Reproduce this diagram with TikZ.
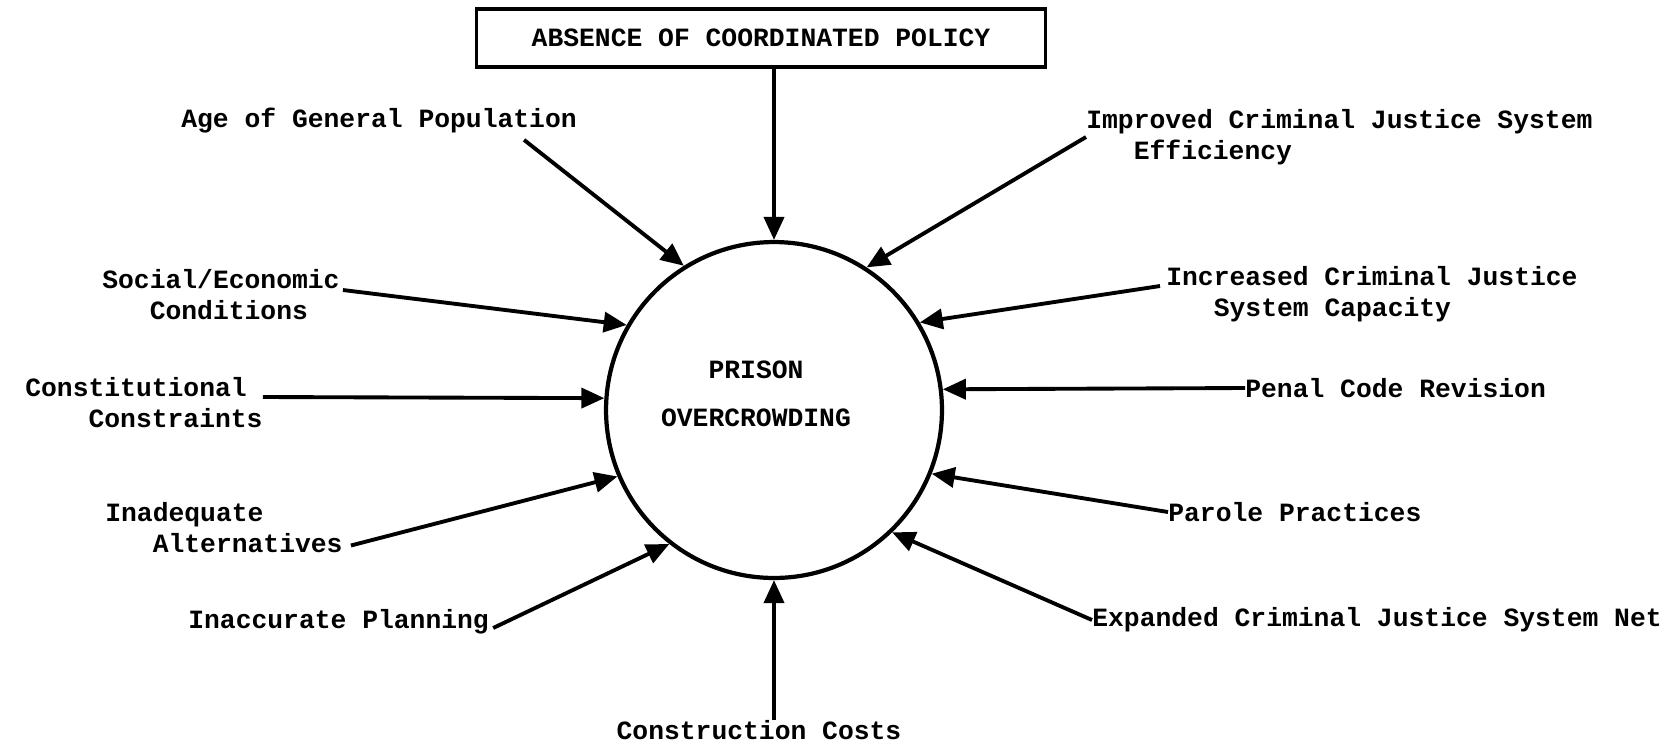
\documentclass[tikz,border=0pt]{standalone}
\usepackage{fontspec}
\setmonofont{Liberation Mono}
\usepackage{tikz}
\usetikzlibrary{calc}
\usetikzlibrary{arrows.meta}

\begin{document}
\begin{tikzpicture}[x=0.02cm,y=-0.02cm,
		txt/.style={font=\fontsize{15}{17.6}\selectfont\ttfamily\bfseries,inner sep=0pt,align=left},
		cause/.style={line width=2.2pt,-{Triangle[length=0.46cm,width=0.4cm]}}]
		\useasboundingbox (0,0) rectangle (1675,745);
		% centre
		\node[txt,draw,line width=2pt,minimum width=11.38cm,minimum height=1.16cm,align=center] (box) at (761,38) {ABSENCE OF COORDINATED POLICY};
		\node[circle,draw,line width=2.4pt,minimum size=6.72cm] (po) at (774,410) {};
		\node[txt,align=center,font=\fontsize{15}{27.3}\selectfont\ttfamily\bfseries] (ptext) at (756,394) {PRISON\\OVERCROWDING};
		% causes
		\node[txt] (age) at (379,121) {Age of General Population};
		\node[txt,anchor=west] (eff) at (1086,137) {Improved Criminal Justice System\\\phantom{XXX}Efficiency};
		\node[txt,anchor=west] (soc) at (102,295) {Social/Economic\\\phantom{XXX}Conditions};
		\node[txt,anchor=west] (cap) at (1166,294) {Increased Criminal Justice\\\phantom{XXX}System Capacity};
		\node[txt,anchor=west] (con) at (25,403) {Constitutional\\\phantom{XXXX}Constraints};
		\node[txt,anchor=west] (pen) at (1245,388) {Penal Code Revision};
		\node[txt,anchor=west] (alt) at (105,528) {Inadequate\\\phantom{XXX}Alternatives};
		\node[txt,anchor=west] (par) at (1168,512) {Parole Practices};
		\node[txt,anchor=west] (pla) at (188,622) {Inaccurate Planning};
		\node[txt,anchor=west] (net) at (1092,620) {Expanded Criminal Justice System Net};
		\node[txt] (cost) at (759,730) {Construction Costs};
		% arrows
		\draw[cause] (box.south -| po.north) -- (po.north);
		\draw[cause] ($(age.south east)+(-53,6)$) -- (po.122);
		\draw[cause] (eff.west) -- (po.57);
		\draw[cause] ($(soc.east)+(3,-5)$) -- (po.150);
		\draw[cause] ($(cap.west)+(-6,-8)$) -- (po.31);
		\draw[cause] ($(con.east)+(0,-6)$) -- (po.176);
		\draw[cause] (pen.west) -- (po.7);
		\draw[cause] ($(alt.south east)+(8,-8)$) -- (po.203);
		\draw[cause] (par.west) -- (po.-22);
		\draw[cause] ($(pla.east)+(4,6)$) -- (po.232);
		\draw[cause] (net.west) -- (po.-46);
		\draw[cause] (cost.north -| po.south) -- (po.south);
	\end{tikzpicture}
\end{document}
